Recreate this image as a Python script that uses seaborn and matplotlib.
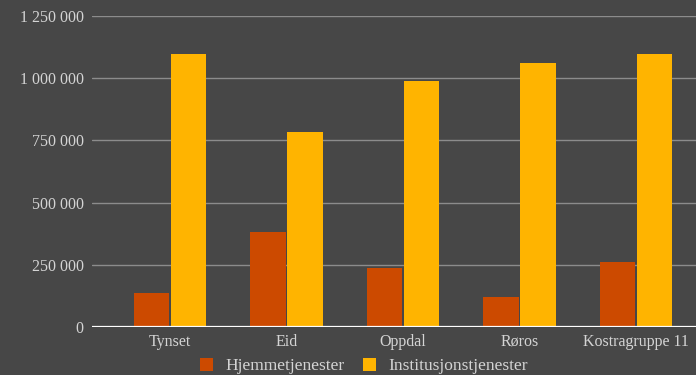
import matplotlib
matplotlib.use("Agg")
import matplotlib.pyplot as plt
import matplotlib.ticker as mticker
from matplotlib.patches import Patch
import seaborn as sns
import pandas as pd

categories = ["Tynset", "Eid", "Oppdal", "Røros", "Kostragruppe 11"]
hjemmetjenester = [135000, 382000, 236000, 121000, 262000]
institusjonstjenester = [1098000, 782000, 989000, 1062000, 1099000]
series_names = ["Hjemmetjenester", "Institusjonstjenester"]
yticks = [0, 250000, 500000, 750000, 1000000, 1250000]

df = pd.DataFrame({
    "Kommune": categories * 2,
    "Serie": [series_names[0]] * len(categories) + [series_names[1]] * len(categories),
    "Verdi": hjemmetjenester + institusjonstjenester,
})

BG = "#474747"
TXT = "#d4d4d4"
palette = {series_names[0]: "#cc4a00", series_names[1]: "#ffb400"}

sns.set_theme(style="dark")
plt.rcParams["font.family"] = ["Liberation Serif", "DejaVu Serif"]

fig = plt.figure(figsize=(6.96, 3.75), dpi=100, facecolor=BG)
ax = fig.add_axes([92 / 696, (375 - 327) / 375, (696 - 92) / 696, (327 - 16) / 375])
ax.set_facecolor(BG)

sns.barplot(data=df, x="Kommune", y="Verdi", hue="Serie", palette=palette,
            width=0.63, gap=0.03, ax=ax, legend=False, saturation=1,
            edgecolor="none", linewidth=0)

ax.set_ylim(0, 1250000)
ax.set_xlim(-(170 - 92) / 116.5, (696 - 170) / 116.5)
ax.set_yticks(yticks)
ax.yaxis.set_major_formatter(mticker.FuncFormatter(lambda v, p: f"{int(v):,}".replace(",", " ")))
ax.grid(axis="y", color="#8c8c8c", linewidth=1)
ax.grid(axis="x", visible=False)
ax.set_axisbelow(True)
for s in ax.spines.values():
    s.set_visible(False)
ax.axhline(0, color="white", linewidth=1.6, zorder=5)
ax.set_xlabel("")
ax.set_ylabel("")
ax.tick_params(axis="y", colors=TXT, labelsize=11.5, length=0, pad=6)
ax.tick_params(axis="x", colors=TXT, labelsize=11.5, length=0, pad=5)

handles = [Patch(facecolor=palette[n], edgecolor="none", label=n) for n in series_names]
leg = fig.legend(handles=handles, loc="center", bbox_to_anchor=(0.523, 0.024), ncol=2,
                 frameon=False, fontsize=12.5, handlelength=0.75, handleheight=0.75,
                 handletextpad=0.7, columnspacing=1.1)
for t in leg.get_texts():
    t.set_color(TXT)

fig.savefig("out.png", dpi=100, facecolor=BG)
